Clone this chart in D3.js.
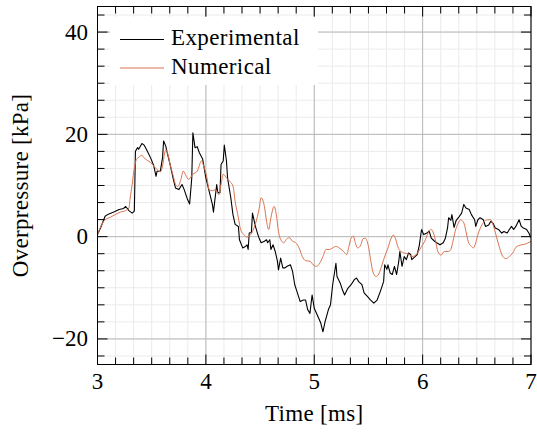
<!DOCTYPE html>
<html lang="en">

<head>
    <meta charset="UTF-8">
    <title>Overpressure</title>
    <script src="https://d3js.org/d3.v7.min.js"></script>
</head>
<style>
body {
    margin: 0;
    background: #fff;
}
</style>

<body>
    <svg width="537" height="435" font-family="'Liberation Serif', 'DejaVu Serif', serif"></svg>
</body>
<script>
// experimental trace (time in ms, overpressure in kPa)
var expTime = [3.00, 3.03, 3.07, 3.10, 3.15, 3.20, 3.24, 3.26, 3.29, 3.32, 3.34, 3.35, 3.37, 3.38, 3.41, 3.43, 3.46, 3.49, 3.52, 3.54,
    3.55, 3.58, 3.60, 3.61, 3.63, 3.64, 3.67, 3.70, 3.72, 3.75, 3.78, 3.80, 3.83, 3.85, 3.87, 3.88, 3.90, 3.92, 3.94, 3.97,
    4.00, 4.03, 4.06, 4.07, 4.10, 4.11, 4.13, 4.14, 4.16, 4.17, 4.19, 4.20, 4.23, 4.25, 4.27, 4.30, 4.31, 4.34, 4.36, 4.38,
    4.39, 4.40, 4.42, 4.43, 4.45, 4.46, 4.48, 4.49, 4.51, 4.54, 4.56, 4.57, 4.59, 4.60, 4.62, 4.64, 4.66, 4.67, 4.69, 4.71,
    4.73, 4.75, 4.78, 4.80, 4.82, 4.84, 4.87, 4.90, 4.92, 4.94, 4.96, 4.98, 5.00, 5.04, 5.06, 5.08, 5.10, 5.13, 5.15, 5.17,
    5.20, 5.21, 5.24, 5.26, 5.28, 5.31, 5.34, 5.37, 5.39, 5.41, 5.44, 5.46, 5.49, 5.52, 5.55, 5.58, 5.61, 5.64, 5.65, 5.67,
    5.68, 5.70, 5.72, 5.74, 5.76, 5.78, 5.79, 5.81, 5.83, 5.85, 5.87, 5.89, 5.90, 5.93, 5.95, 5.97, 5.99, 6.01, 6.04, 6.06,
    6.08, 6.11, 6.13, 6.16, 6.19, 6.21, 6.23, 6.24, 6.26, 6.27, 6.29, 6.31, 6.33, 6.36, 6.38, 6.40, 6.43, 6.45, 6.48, 6.49,
    6.51, 6.53, 6.56, 6.58, 6.61, 6.63, 6.65, 6.67, 6.70, 6.73, 6.75, 6.78, 6.80, 6.82, 6.84, 6.86, 6.89, 6.91, 6.93, 6.96,
    6.98, 7.00];
var expValue = [0.4, 1.8, 4.0, 4.4, 4.8, 5.3, 5.5, 5.9, 5.1, 4.6, 5.0, 16.7, 17.4, 17.1, 18.2, 17.9, 16.7, 15.4, 13.8, 11.8,
    12.8, 12.8, 15.4, 18.7, 17.7, 16.7, 14.1, 11.2, 9.5, 9.2, 10.2, 9.2, 7.3, 6.4, 11.5, 20.3, 17.4, 17.6, 16.4, 15.2,
    11.5, 8.9, 6.3, 4.8, 10.2, 8.6, 8.6, 14.1, 14.8, 17.9, 14.8, 11.5, 7.6, 4.3, 2.4, 2.0, -0.6, -2.2, -2.0, -1.6,
    -2.5, 0.7, 0.8, 4.6, 2.7, 1.8, 0.4, -0.2, -1.2, -0.9, -0.6, -1.2, -0.6, -2.5, -1.6, -2.9, -4.8, -6.5, -4.2, -6.1,
    -6.1, -5.8, -5.5, -6.8, -9.4, -10.7, -12.7, -12.4, -12.4, -14.3, -15.0, -11.4, -14.0, -15.9, -16.9, -18.6, -16.6, -14.3, -13.3, -9.4,
    -5.2, -7.8, -9.1, -10.4, -11.4, -10.1, -9.4, -8.4, -8.1, -8.8, -9.4, -11.0, -11.7, -12.4, -13.0, -12.4, -10.7, -8.8, -5.5, -6.4,
    -5.5, -7.1, -7.4, -5.8, -7.4, -4.8, -2.9, -5.8, -3.9, -4.5, -3.2, -3.5, -4.5, -3.9, -3.5, -1.6, 1.4, 0.4, 0.7, 1.1,
    -0.3, -0.9, -1.2, -1.6, -1.2, -0.3, 1.7, 3.7, 3.2, 4.3, 1.8, 3.2, 3.7, 4.6, 6.3, 5.6, 5.3, 4.3, 3.3, 2.0,
    3.3, 3.7, 3.3, 2.0, 2.3, 3.0, 2.6, 1.7, 1.4, 0.7, 1.0, 0.7, 1.4, 2.0, 1.4, 2.0, 3.3, 2.0, 1.7, 1.4,
    0.7, -0.2];

// numerical trace
var numTime = [3.00, 3.04, 3.07, 3.12, 3.17, 3.21, 3.26, 3.29, 3.30, 3.32, 3.34, 3.36, 3.38, 3.41, 3.43, 3.46, 3.49, 3.52, 3.55, 3.58,
    3.60, 3.62, 3.63, 3.65, 3.67, 3.70, 3.72, 3.74, 3.77, 3.79, 3.82, 3.84, 3.88, 3.92, 3.96, 3.98, 4.01, 4.03, 4.06, 4.09,
    4.12, 4.14, 4.16, 4.19, 4.22, 4.25, 4.27, 4.30, 4.32, 4.35, 4.38, 4.40, 4.43, 4.46, 4.49, 4.51, 4.54, 4.56, 4.58, 4.60,
    4.63, 4.65, 4.67, 4.70, 4.72, 4.74, 4.77, 4.80, 4.83, 4.86, 4.89, 4.92, 4.96, 4.99, 5.02, 5.05, 5.08, 5.11, 5.14, 5.17,
    5.20, 5.23, 5.27, 5.30, 5.32, 5.34, 5.36, 5.38, 5.40, 5.43, 5.45, 5.47, 5.50, 5.52, 5.54, 5.57, 5.59, 5.61, 5.64, 5.68,
    5.71, 5.73, 5.75, 5.77, 5.80, 5.83, 5.87, 5.90, 5.93, 5.96, 5.99, 6.02, 6.05, 6.08, 6.10, 6.12, 6.14, 6.17, 6.20, 6.24,
    6.26, 6.28, 6.30, 6.33, 6.35, 6.38, 6.40, 6.42, 6.45, 6.47, 6.49, 6.51, 6.54, 6.57, 6.60, 6.63, 6.65, 6.68, 6.71, 6.74,
    6.77, 6.80, 6.84, 6.86, 6.91, 6.94, 7.00];
var numValue = [0.4, 2.4, 3.3, 3.8, 4.4, 4.8, 5.1, 5.6, 7.3, 10.2, 13.5, 15.1, 15.5, 15.9, 15.4, 14.9, 14.5, 13.8, 13.1, 12.7,
    13.8, 16.4, 17.0, 16.1, 14.1, 11.8, 10.2, 9.8, 11.2, 12.8, 11.8, 11.2, 12.2, 12.8, 14.8, 13.8, 11.5, 9.2, 9.0, 9.2,
    8.2, 10.2, 12.2, 11.5, 10.8, 9.9, 6.9, 3.7, 1.4, 0.4, -0.1, 0.1, 1.0, 2.7, 5.3, 7.6, 5.9, 3.0, 1.4, 3.7,
    5.9, 4.3, 1.0, -0.9, -1.2, -0.6, -0.2, -0.9, -1.2, -2.2, -3.9, -4.7, -4.8, -5.5, -5.8, -5.2, -3.9, -2.5, -2.5, -2.2,
    -1.9, -2.2, -2.9, -3.5, -1.9, -0.3, 0.1, -1.3, -2.2, -1.6, -0.4, -0.3, -1.9, -4.5, -6.8, -7.8, -7.5, -6.5, -4.5, -2.2,
    -0.3, 0.3, -0.4, -1.9, -2.9, -3.2, -3.4, -3.9, -3.7, -3.0, -1.9, -0.9, 0.7, 1.4, 0.7, -0.9, -2.9, -3.6, -2.9, -2.9,
    -2.5, -0.9, 1.0, 2.7, 3.3, 2.7, 1.0, -0.9, -1.9, -2.2, -1.2, 0.4, 2.0, 3.0, 3.3, 3.3, 2.3, 0.1, -2.2, -3.9,
    -4.3, -3.9, -2.9, -2.1, -1.6, -1.5, -0.9];

var xTicks = [3, 4, 5, 6, 7];
var yTicks = [-20, 0, 20, 40];
var seriesNames = ['Experimental', 'Numerical'];
var seriesColors = ['#000000', '#d9724f'];

var svg = d3.select('svg');
var plotL = 97.5, plotR = 531, plotT = 6.5, plotB = 364.5;
var fontSize = 23;

var x = d3.scaleLinear().domain([3, 7]).range([plotL, plotR]);
var y = d3.scaleLinear().domain([-25, 45]).range([plotB, plotT]);

// minor ticks: 5 between each pair of majors
var xMinor = d3.range(0, 25).map(function(i) { return 3 + i / 6; });
var yMinor = d3.range(-7, 14).map(function(i) { return i * 20 / 6; });

var grid = svg.append('g');
grid.selectAll('.vminor').data(xMinor).enter().append('line')
    .attr('x1', function(d) { return x(d); }).attr('x2', function(d) { return x(d); })
    .attr('y1', plotT).attr('y2', plotB)
    .attr('stroke', '#ebebeb').attr('stroke-width', 1);
grid.selectAll('.hminor').data(yMinor).enter().append('line')
    .attr('y1', function(d) { return y(d); }).attr('y2', function(d) { return y(d); })
    .attr('x1', plotL).attr('x2', plotR)
    .attr('stroke', '#ebebeb').attr('stroke-width', 1);
grid.selectAll('.vmajor').data(xTicks).enter().append('line')
    .attr('x1', function(d) { return x(d); }).attr('x2', function(d) { return x(d); })
    .attr('y1', plotT).attr('y2', plotB)
    .attr('stroke', '#b8b8b8').attr('stroke-width', 1);
grid.selectAll('.hmajor').data(yTicks).enter().append('line')
    .attr('y1', function(d) { return y(d); }).attr('y2', function(d) { return y(d); })
    .attr('x1', plotL).attr('x2', plotR)
    .attr('stroke', '#b8b8b8').attr('stroke-width', 1);

svg.append('clipPath').attr('id', 'plot')
    .append('rect').attr('x', plotL).attr('y', plotT)
    .attr('width', plotR - plotL).attr('height', plotB - plotT);

var expLine = d3.line()
    .x(function(d, i) { return x(expTime[i]); })
    .y(function(d) { return y(d); });
var numLine = d3.line()
    .curve(d3.curveMonotoneX)
    .x(function(d, i) { return x(numTime[i]); })
    .y(function(d) { return y(d); });

var lines = svg.append('g').attr('clip-path', 'url(#plot)');
lines.append('path').datum(expValue)
    .attr('d', expLine)
    .attr('fill', 'none').attr('stroke', seriesColors[0]).attr('stroke-width', 1.1)
    .attr('stroke-linejoin', 'round');
lines.append('path').datum(numValue)
    .attr('d', numLine)
    .attr('fill', 'none').attr('stroke', seriesColors[1]).attr('stroke-width', 1)
    .attr('stroke-linejoin', 'round');

// legend
var legend = svg.append('g');
legend.append('rect')
    .attr('x', 110).attr('y', 17).attr('width', 208).attr('height', 68)
    .attr('fill', '#fff');
legend.selectAll('line').data(seriesNames).enter().append('line')
    .attr('x1', 120).attr('x2', 164)
    .attr('y1', function(d, i) { return 39.5 + i * 28.5; })
    .attr('y2', function(d, i) { return 39.5 + i * 28.5; })
    .attr('stroke', function(d, i) { return seriesColors[i]; })
    .attr('stroke-width', 1);
legend.selectAll('text').data(seriesNames).enter().append('text')
    .attr('x', 171)
    .attr('y', function(d, i) { return 45 + i * 28.5; })
    .attr('font-size', fontSize)
    .attr('letter-spacing', 0.4)
    .text(function(d) { return d; });

// frame and inward ticks on all four sides
var axes = svg.append('g').attr('stroke', '#000').attr('stroke-width', 1);
xMinor.forEach(function(v) {
    var isMajor = Math.abs(v - Math.round(v)) < 1e-9;
    var len = isMajor ? 10 : 7;
    axes.append('line').attr('x1', x(v)).attr('x2', x(v)).attr('y1', plotB).attr('y2', plotB - len);
    axes.append('line').attr('x1', x(v)).attr('x2', x(v)).attr('y1', plotT).attr('y2', plotT + len);
});
yMinor.forEach(function(v) {
    var isMajor = Math.abs(v / 20 - Math.round(v / 20)) < 1e-9;
    var len = isMajor ? 10 : 7;
    axes.append('line').attr('y1', y(v)).attr('y2', y(v)).attr('x1', plotL).attr('x2', plotL + len);
    axes.append('line').attr('y1', y(v)).attr('y2', y(v)).attr('x1', plotR).attr('x2', plotR - len);
});
axes.append('rect')
    .attr('x', plotL).attr('y', plotT)
    .attr('width', plotR - plotL).attr('height', plotB - plotT)
    .attr('fill', 'none');

// tick labels
svg.append('g').selectAll('text').data(xTicks).enter().append('text')
    .attr('x', function(d) { return x(d); })
    .attr('y', 389)
    .attr('text-anchor', 'middle')
    .attr('font-size', fontSize)
    .text(function(d) { return d; });
svg.append('g').selectAll('text').data(yTicks).enter().append('text')
    .attr('x', 88)
    .attr('y', function(d) { return y(d) + 7.5; })
    .attr('text-anchor', 'end')
    .attr('font-size', fontSize)
    .text(function(d) { return d < 0 ? '\u2212' + Math.abs(d) : d; });

// axis titles
svg.append('text')
    .attr('x', (plotL + plotR) / 2).attr('y', 421)
    .attr('text-anchor', 'middle')
    .attr('font-size', fontSize)
    .attr('letter-spacing', 0.3)
    .text('Time [ms]');
svg.append('text')
    .attr('transform', 'translate(28,' + ((plotT + plotB) / 2) + ') rotate(-90)')
    .attr('text-anchor', 'middle')
    .attr('font-size', fontSize)
    .attr('letter-spacing', 0.3)
    .text('Overpressure [kPa]');
</script>

</html>
